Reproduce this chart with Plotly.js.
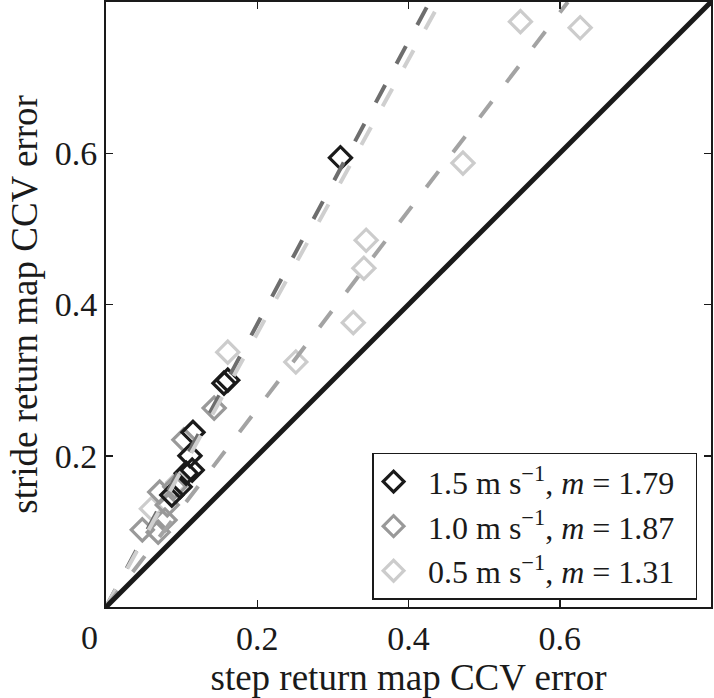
<!DOCTYPE html>
<html>
<head>
<meta charset="utf-8">
<script src="https://cdn.plot.ly/plotly-3.0.1.min.js"></script>
<style>html,body{margin:0;padding:0;background:#fff;}#chart{width:714px;height:698px;}</style>
</head>
<body>
<div id="chart"></div>
<script>
// ---- data ----
const seriesLabels = [
  '1.5 m s<sup>\u22121</sup>, <i>m</i> = 1.79',
  '1.0 m s<sup>\u22121</sup>, <i>m</i> = 1.87',
  '0.5 m s<sup>\u22121</sup>, <i>m</i> = 1.31'
];
const markerColors = ['#1a1a1a', '#999999', '#cccccc'];

// 1.5 m/s
const step15   = [0.310, 0.156, 0.161, 0.115, 0.111, 0.114, 0.106, 0.098, 0.087];
const stride15 = [0.594, 0.296, 0.300, 0.231, 0.200, 0.181, 0.177, 0.159, 0.148];
// 1.0 m/s
const step10   = [0.143, 0.103, 0.091, 0.071, 0.081, 0.078, 0.069, 0.048];
const stride10 = [0.263, 0.221, 0.159, 0.152, 0.135, 0.115, 0.099, 0.102];
// 0.5 m/s
const step05   = [0.548, 0.627, 0.472, 0.344, 0.341, 0.327, 0.251, 0.161, 0.095, 0.060];
const stride05 = [0.774, 0.766, 0.587, 0.485, 0.448, 0.376, 0.324, 0.337, 0.165, 0.130];

// dashed fit lines through the origin (slopes as drawn)
const fitSlopes = [1.87, 1.81, 1.31];
const fitColors = ['#6e6e6e', '#cfcfcf', '#a3a3a3'];

const tickVals = [0.2, 0.4, 0.6];
const axisMax = 0.8;

// ---- build traces ----
const FONT = 'Liberation Serif, Times New Roman, serif';
const stepData = [step15, step10, step05];
const strideData = [stride15, stride10, stride05];
const PAD_L = '\u00a0\u2009';
const PAD_R = '\u00a0\u00a0';

const traces = [];
// draw lightest first so black markers sit on top
[2, 1, 0].forEach(i => {
  traces.push({
    type: 'scatter', mode: 'markers',
    x: stepData[i], y: strideData[i],
    name: PAD_L + seriesLabels[i] + PAD_R, legendrank: i + 1,
    marker: {symbol: 'diamond-open', size: 17, color: markerColors[i],
             line: {width: 3.2, color: markerColors[i]}},
    hoverinfo: 'skip'
  });
});
fitSlopes.forEach((m, i) => {
  traces.push({
    type: 'scatter', mode: 'lines',
    x: [0, axisMax / m], y: [0, axisMax],
    line: {color: fitColors[i], width: 4, dash: '20px,24px'},
    showlegend: false, hoverinfo: 'skip'
  });
});
traces.push({
  type: 'scatter', mode: 'lines',
  x: [0, axisMax], y: [0, axisMax],
  line: {color: '#1a1a1a', width: 5},
  showlegend: false, hoverinfo: 'skip'
});

const axisCommon = {
  range: [0, axisMax], tickvals: tickVals, ticks: 'inside', ticklen: 7,
  tickwidth: 1.5, tickcolor: '#1a1a1a', mirror: 'allticks', showline: true,
  linewidth: 2, linecolor: '#1a1a1a', showgrid: false, zeroline: false,
  tickfont: {family: FONT, size: 34, color: '#1a1a1a'}, fixedrange: true
};

const layout = {
  width: 714, height: 698,
  margin: {l: 106, r: 3, t: 2, b: 91},
  paper_bgcolor: '#fff', plot_bgcolor: '#fff',
  font: {family: FONT, color: '#1a1a1a'},
  showlegend: true,
  xaxis: Object.assign({}, axisCommon, {
    title: {text: 'step return map CCV error', font: {family: FONT, size: 37, color: '#1a1a1a'}, standoff: 4}
  }),
  yaxis: Object.assign({}, axisCommon, {
    title: {text: 'stride return map CCV error', font: {family: FONT, size: 37, color: '#1a1a1a'}, standoff: 6}
  }),
  legend: {
    x: 0.977, y: 0.012, xanchor: 'right', yanchor: 'bottom',
    bgcolor: '#fff', bordercolor: '#1a1a1a', borderwidth: 1.5,
    font: {family: FONT, size: 32, color: '#1a1a1a'},
    tracegroupgap: 0
  },
  annotations: [{
    text: '0', xref: 'x', yref: 'paper', x: 0, y: 0,
    xanchor: 'center', yanchor: 'middle', xshift: -17, yshift: -30,
    showarrow: false, font: {family: FONT, size: 34, color: '#1a1a1a'}
  }]
};

Plotly.newPlot('chart', traces, layout, {displayModeBar: false, staticPlot: true});
</script>
</body>
</html>
